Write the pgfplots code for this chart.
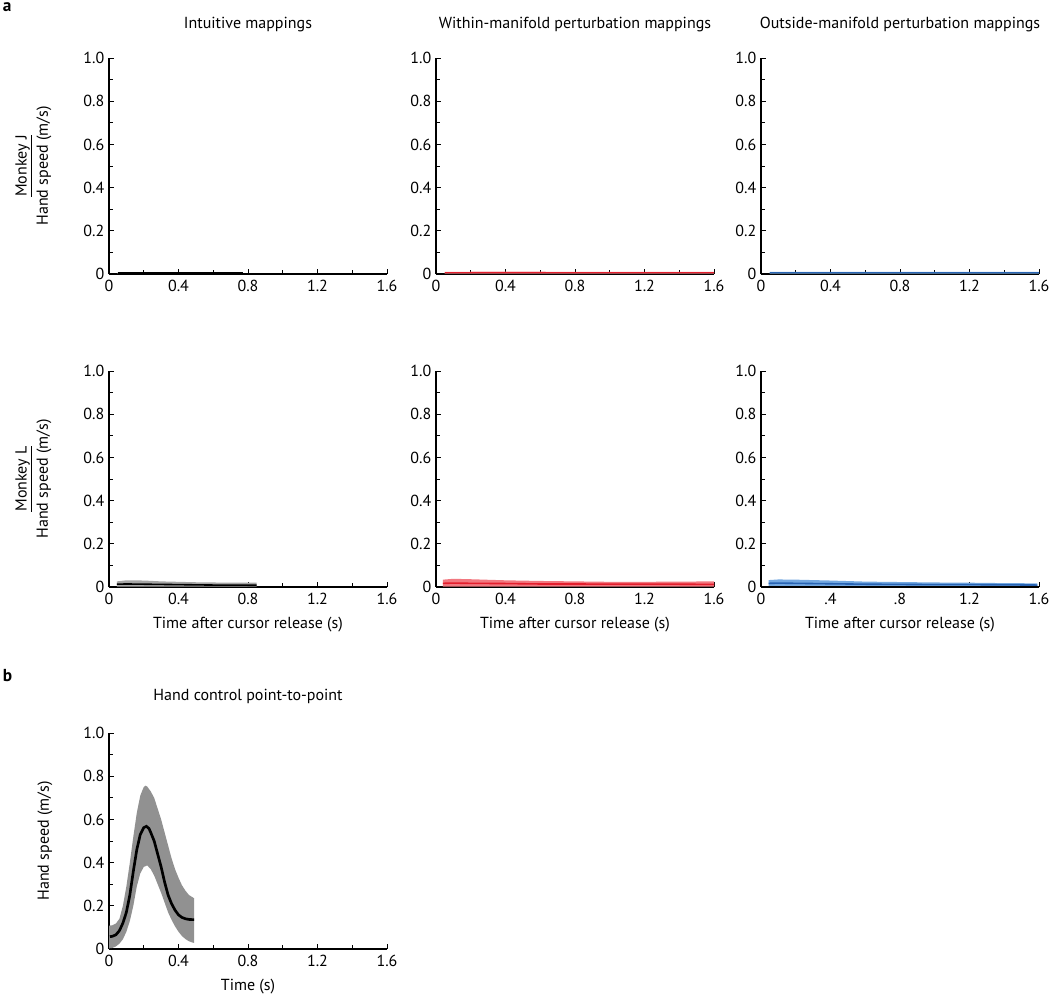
\documentclass[border=0pt]{standalone}
\usepackage{pgfplots}
\pgfplotsset{compat=1.18}
\usepackage{fontspec}
\setmainfont{PT Sans}
\definecolor{redline}{RGB}{228,30,45}
\definecolor{redband}{RGB}{242,120,128}
\definecolor{blueline}{RGB}{40,100,180}
\definecolor{blueband}{RGB}{115,168,225}
\definecolor{grayband}{RGB}{145,145,145}
\definecolor{grayband2}{RGB}{165,165,165}
\newcommand{\fs}{\fontsize{12}{14}\selectfont}
\pgfplotsset{
  panel/.style={
    scale only axis, width=208.5pt, height=162pt,
    xmin=0, xmax=1.6, ymin=0, ymax=1,
    axis lines=left, axis line style={-, line width=0.8pt},
    tick align=inside,
    xtick={0,0.4,0.8,1.2,1.6}, ytick={0,0.2,0.4,0.6,0.8,1},
    minor x tick num=1, minor y tick num=1,
    xticklabels={0,0.4,0.8,1.2,1.6},
    yticklabels={0,0.2,0.4,0.6,0.8,1.0},
    major tick length=3.5pt, minor tick length=3pt,
    every tick/.style={black, line width=0.6pt},
    /pgf/number format/assume math mode=true,
    tick label style={font=\fs},
    xticklabel style={yshift=-1pt},
    title style={font=\fs, at={(axis description cs:0.5,1.12)}, anchor=center},
    xlabel style={font=\fs, at={(axis description cs:0.5,-0.176)}, anchor=center},
    ylabel style={font=\fs, align=center, at={(axis description cs:-0.23,0.5)}, anchor=center, rotate=0},
    clip=false,
  },
}
\begin{document}
\begin{tikzpicture}
\path[use as bounding box] (0,0) rectangle (787.5pt,-749.25pt);
\node[anchor=north west, inner sep=0pt, font=\bfseries\fontsize{13}{15}\selectfont] at (2pt,-2pt) {a};
\node[anchor=north west, inner sep=0pt, font=\bfseries\fontsize{13}{15}\selectfont] at (2pt,-502pt) {b};

% Row 1, col 1
\begin{axis}[panel, at={(81.75pt,-205.5pt)}, anchor=south west,
  title={Intuitive mappings},
  ylabel={\underline{Monkey J}\\[2pt]Hand speed (m/s)},
  ylabel style={at={(axis description cs:-0.272,0.5)}}]
\addplot[fill=grayband, draw=none] coordinates {(0.05,0.006) (0.4,0.006) (0.77,0.006) (0.77,0.001) (0.4,0.001) (0.05,0.001)} -- cycle;
\addplot[black, line width=1.2pt] coordinates {(0.05,0.0035) (0.4,0.0035) (0.77,0.0035)};
\end{axis}

% Row 1, col 2
\begin{axis}[panel, at={(327pt,-205.5pt)}, anchor=south west,
  title={Within-manifold perturbation mappings}]
\addplot[fill=redband, draw=none] coordinates {(0.05,0.010) (0.4,0.011) (0.8,0.010) (1.2,0.010) (1.6,0.010) (1.6,0.002) (1.2,0.002) (0.8,0.002) (0.4,0.002) (0.05,0.002)} -- cycle;
\addplot[redline, line width=1.0pt] coordinates {(0.05,0.006) (0.4,0.006) (0.8,0.006) (1.2,0.006) (1.6,0.006)};
\end{axis}

% Row 1, col 3
\begin{axis}[panel, at={(570.75pt,-205.5pt)}, anchor=south west,
  title={Outside-manifold perturbation mappings}]
\addplot[fill=blueband, draw=none] coordinates {(0.05,0.010) (0.4,0.010) (0.8,0.010) (1.2,0.010) (1.6,0.010) (1.6,0.002) (1.2,0.002) (0.8,0.002) (0.4,0.002) (0.05,0.002)} -- cycle;
\addplot[blueline, line width=1.0pt] coordinates {(0.05,0.006) (0.4,0.006) (0.8,0.006) (1.2,0.006) (1.6,0.006)};
\end{axis}

% Row 2, col 1
\begin{axis}[panel, at={(81.75pt,-440.25pt)}, anchor=south west,
  xlabel={Time after cursor release (s)},
  ylabel={\underline{Monkey L}\\[2pt]Hand speed (m/s)},
  ylabel style={at={(axis description cs:-0.272,0.5)}}]
\addplot[fill=grayband2, draw=none] coordinates {(0.045,0.026) (0.1,0.031) (0.2,0.030) (0.3,0.026) (0.4,0.024) (0.5,0.022) (0.6,0.021) (0.7,0.020) (0.85,0.020) (0.85,0.002) (0.6,0.002) (0.4,0.002) (0.2,0.002) (0.045,0.002)} -- cycle;
\addplot[black, line width=1.2pt] coordinates {(0.045,0.013) (0.1,0.014) (0.2,0.013) (0.3,0.012) (0.4,0.011) (0.5,0.010) (0.6,0.009) (0.7,0.009) (0.85,0.008)};
\end{axis}

% Row 2, col 2
\begin{axis}[panel, at={(327pt,-440.25pt)}, anchor=south west,
  xlabel={Time after cursor release (s)}]
\addplot[fill=redband, draw=none] coordinates {(0.04,0.034) (0.1,0.038) (0.2,0.036) (0.4,0.031) (0.6,0.028) (0.8,0.026) (1.0,0.024) (1.2,0.024) (1.4,0.025) (1.6,0.026) (1.6,0.002) (1.2,0.002) (0.8,0.002) (0.4,0.002) (0.04,0.002)} -- cycle;
\addplot[redline, line width=1.2pt] coordinates {(0.04,0.017) (0.1,0.018) (0.2,0.017) (0.4,0.016) (0.6,0.014) (0.8,0.014) (1.0,0.013) (1.2,0.013) (1.4,0.013) (1.6,0.012)};
\end{axis}

% Row 2, col 3
\begin{axis}[panel, at={(570.75pt,-440.25pt)}, anchor=south west,
  xlabel={Time after cursor release (s)},
  xticklabels={0,.4,.8,1.2,1.6}]
\addplot[fill=blueband, draw=none] coordinates {(0.044,0.032) (0.1,0.035) (0.2,0.034) (0.4,0.030) (0.6,0.025) (0.8,0.023) (1.0,0.021) (1.2,0.020) (1.4,0.018) (1.59,0.017) (1.59,0.005) (1.2,0.005) (0.8,0.005) (0.4,0.005) (0.044,0.005)} -- cycle;
\addplot[blueline, line width=1.2pt] coordinates {(0.044,0.017) (0.1,0.018) (0.2,0.017) (0.4,0.015) (0.6,0.013) (0.8,0.012) (1.0,0.011) (1.2,0.011) (1.4,0.010) (1.59,0.009)};
\end{axis}

% Panel b
\begin{axis}[panel, at={(81.75pt,-711.75pt)}, anchor=south west,
  title={Hand control point-to-point},
  title style={at={(axis description cs:0.5,1.134)}},
  xlabel={Time (s)},
  ylabel={Hand speed (m/s)}]
\addplot[fill=grayband, draw=none] coordinates {
 (0.00,0.108) (0.02,0.110) (0.04,0.118) (0.06,0.14) (0.08,0.20) (0.10,0.29) (0.12,0.40) (0.14,0.52) (0.16,0.63) (0.18,0.71) (0.20,0.75) (0.21,0.756) (0.22,0.752) (0.24,0.73) (0.26,0.70) (0.28,0.65) (0.30,0.60) (0.32,0.54) (0.34,0.48) (0.36,0.42) (0.38,0.37) (0.40,0.33) (0.42,0.295) (0.44,0.27) (0.46,0.25) (0.48,0.24) (0.49,0.235)
 (0.49,0.028) (0.48,0.030) (0.46,0.036) (0.44,0.046) (0.42,0.060) (0.40,0.08) (0.38,0.105) (0.36,0.135) (0.34,0.17) (0.32,0.215) (0.30,0.26) (0.28,0.30) (0.26,0.34) (0.24,0.37) (0.22,0.387) (0.20,0.38) (0.18,0.35) (0.16,0.29) (0.14,0.20) (0.12,0.13) (0.10,0.08) (0.08,0.045) (0.06,0.025) (0.04,0.012) (0.02,0.005) (0.00,0.003)} -- cycle;
\addplot[black, line width=2pt] coordinates {
 (0.005,0.057) (0.02,0.059) (0.04,0.066) (0.06,0.085) (0.08,0.12) (0.10,0.17) (0.12,0.25) (0.14,0.36) (0.16,0.46) (0.18,0.53) (0.20,0.562) (0.215,0.568) (0.23,0.558) (0.24,0.54) (0.26,0.50) (0.28,0.44) (0.30,0.38) (0.32,0.31) (0.34,0.25) (0.36,0.21) (0.38,0.18) (0.40,0.158) (0.42,0.146) (0.44,0.140) (0.46,0.137) (0.48,0.136) (0.49,0.136)};
\end{axis}
\end{tikzpicture}
\end{document}
